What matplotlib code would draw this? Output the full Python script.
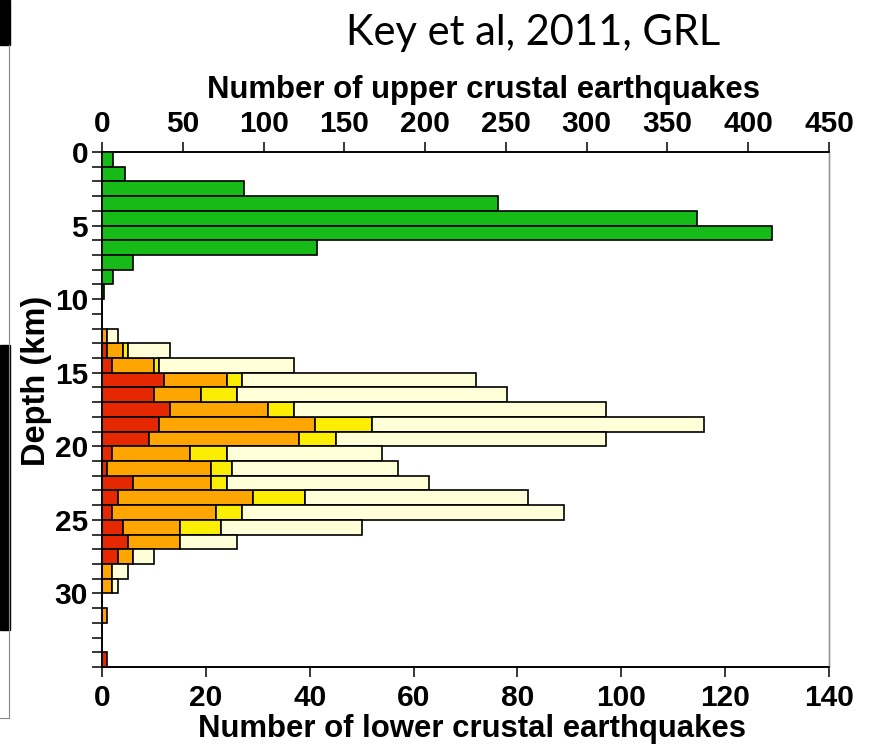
import matplotlib.pyplot as plt
from matplotlib.patches import Rectangle
import numpy as np

# upper crust: depth bins 0-10 km
upper_depth = np.arange(0, 10)
upper_count = [7, 14, 88, 245, 368, 415, 133, 19, 7, 1]

# lower crust: depth bins 12-35 km, stacked by class
lower_depth = np.arange(12, 35)
red    = [0, 1, 2, 12, 10, 13, 11, 9, 2, 1, 6, 3, 2, 4, 5, 3, 0, 0, 0, 0, 0, 0, 1]
orange = [1, 3, 8, 12, 9, 19, 30, 29, 15, 20, 15, 26, 20, 11, 10, 3, 2, 2, 0, 1, 0, 0, 0]
yellow = [0, 1, 1, 3, 7, 5, 11, 7, 7, 4, 3, 10, 5, 8, 0, 0, 0, 0, 0, 0, 0, 0, 0]
light  = [2, 8, 26, 45, 52, 60, 64, 52, 30, 32, 39, 43, 62, 27, 11, 4, 3, 1, 0, 0, 0, 0, 0]

arial = ['Liberation Sans', 'DejaVu Sans']

fig = plt.figure(figsize=(8.69, 7.47), dpi=100)
ax = fig.add_axes([0.1174, 0.1071, 0.8366, 0.6894])

# stacked lower crustal bars
left = np.zeros(len(lower_depth))
for vals, col in [(red, '#e52800'), (orange, '#ffa500'), (yellow, '#fbee00'), (light, '#ffffd8')]:
    vals = np.array(vals, dtype=float)
    m = vals > 0
    ax.barh(lower_depth[m], vals[m], left=left[m], height=1, align='edge',
            color=col, edgecolor='black', linewidth=1.2, zorder=3)
    left += vals

ax.set_xlim(0, 140)
ax.set_ylim(35, 0)
ax.set_xticks(np.arange(0, 141, 20))
ax.set_yticks(np.arange(0, 31, 5))
ax.set_yticks(np.arange(0, 36, 1), minor=True)
ax.set_xlabel('Number of lower crustal earthquakes', family=arial,
              fontweight='bold', fontsize=22.4, labelpad=2)
ax.xaxis.label.set_x(0.509)
ax.set_ylabel('Depth (km)', family=arial, fontweight='bold', fontsize=23.5)
ax.yaxis.set_label_coords(-0.069, 0.555)

# upper crustal bars on top axis
ax2 = ax.twiny()
ax2.barh(upper_depth, upper_count, height=1, align='edge',
         color='#17bb17', edgecolor='black', linewidth=1.2, zorder=3)
ax2.set_xlim(0, 450)
ax2.set_xticks(np.arange(0, 451, 50))
ax2.set_xlabel('Number of upper crustal earthquakes', family=arial,
               fontweight='bold', fontsize=22.4, labelpad=9)
ax2.xaxis.label.set_x(0.525)

for a in (ax, ax2):
    a.tick_params(which='both', direction='out', length=7, width=1.1)
    for s in a.spines.values():
        s.set_linewidth(1.2)
    a.spines['right'].set_color('#999999')
    a.spines['right'].set_linewidth(1.0)

for lab in ax.get_xticklabels() + ax2.get_xticklabels() + ax.get_yticklabels():
    lab.set_family(arial)
    lab.set_fontweight('bold')
    lab.set_fontsize(21.5)
ax.tick_params(axis='y', pad=3)
ax.tick_params(axis='x', pad=5)
ax2.tick_params(axis='x', pad=3)

fig.text(0.614, 0.956, 'Key et al, 2011, GRL', family=['Lato', 'DejaVu Sans'],
         fontsize=30, ha='center', va='center')

# slide edge remnants on the left
fig.patches.append(Rectangle((0, 1 - 45 / 747), 10 / 869, 45 / 747,
                             transform=fig.transFigure, color='black'))
fig.patches.append(Rectangle((0, 1 - 630 / 747), 10 / 869, 285 / 747,
                             transform=fig.transFigure, color='black'))
fig.lines.append(plt.Line2D([9 / 869, 9 / 869], [1 - 718 / 747, 1 - 45 / 747],
                            transform=fig.transFigure, color='#888888', lw=0.8))
fig.lines.append(plt.Line2D([0, 9 / 869], [1 - 718 / 747, 1 - 718 / 747],
                            transform=fig.transFigure, color='#888888', lw=0.8))

fig.savefig('out.png', dpi=100)
